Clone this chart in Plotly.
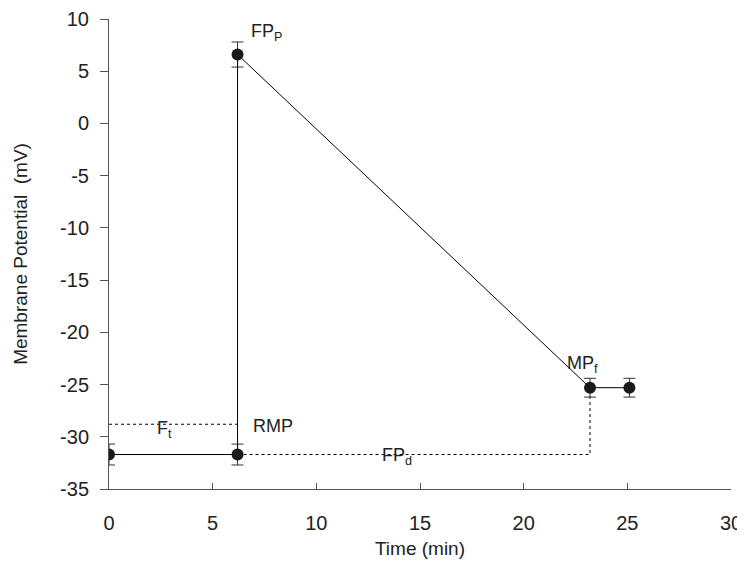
import plotly.graph_objects as go

# Data
pt_x = [0, 6.2, 6.2, 23.2, 25.1]
pt_y = [-31.7, -31.7, 6.6, -25.3, -25.3]
pt_err = [1.0, 1.0, 1.2, 0.9, 0.9]

ft_x = [0, 6.2]
ft_y = [-28.8, -28.8]
fpd_x = [6.2, 23.2, 23.2]
fpd_y = [-31.7, -31.7, -25.3]

labels = ["FP<sub>P</sub>", "F<sub>t</sub>", "RMP", "FP<sub>d</sub>", "MP<sub>f</sub>"]
label_x = [7.6, 2.7, 7.9, 13.9, 22.85]
label_y = [8.7, -29.3, -29.0, -31.9, -23.1]

x_title = "Time (min)"
y_title = "Membrane Potential  (mV)"
x_ticks = [0, 5, 10, 15, 20, 25, 30]
y_ticks = [10, 5, 0, -5, -10, -15, -20, -25, -30, -35]
y_ticktext = ["10", "5", "0", "-5", "-10", "-15", "-20", "-25", "-30", "-35"]

FONT = "Liberation Sans"
TXT = "#222"

fig = go.Figure()
fig.add_trace(go.Scatter(x=ft_x, y=ft_y, mode="lines",
                         line=dict(color="black", width=1, dash="dot"), hoverinfo="skip"))
fig.add_trace(go.Scatter(x=fpd_x, y=fpd_y, mode="lines",
                         line=dict(color="black", width=1, dash="dot"), hoverinfo="skip"))
fig.add_trace(go.Scatter(
    x=pt_x, y=pt_y, mode="lines+markers",
    line=dict(color="black", width=1),
    marker=dict(color="#1a1a1a", size=12),
    error_y=dict(type="data", array=pt_err, color="#333", thickness=1, width=6),
))

for t, x, y in zip(labels, label_x, label_y):
    fig.add_annotation(x=x, y=y, text=t, showarrow=False,
                       font=dict(family=FONT, size=18, color=TXT))

fig.update_layout(
    width=737, height=554,
    margin=dict(l=101, r=14, t=11, b=73),
    plot_bgcolor="white", paper_bgcolor="white",
    showlegend=False,
    font=dict(family=FONT, color=TXT),
    xaxis=dict(range=[0, 30], tickvals=x_ticks, ticks="inside", ticklen=6,
               tickcolor="#555", showline=True, linecolor="#555", linewidth=1,
               showgrid=False, zeroline=False, ticklabelstandoff=16, automargin=False,
               ticklabeloverflow="allow",
               tickfont=dict(size=20, family=FONT, color=TXT),
               title=dict(text=x_title, font=dict(size=19, family=FONT, color=TXT),
                          standoff=8)),
    yaxis=dict(range=[-35, 10], tickvals=y_ticks, ticktext=y_ticktext,
               ticks="outside", ticklen=8, automargin=False, ticklabelstandoff=7,
               tickcolor="#555", showline=True, linecolor="#555", linewidth=1,
               showgrid=False, zeroline=False,
               tickfont=dict(size=20, family=FONT, color=TXT),
               title=dict(text=y_title,
                          font=dict(size=19, family=FONT, color=TXT), standoff=27)),
)

fig.write_html("out.html")
